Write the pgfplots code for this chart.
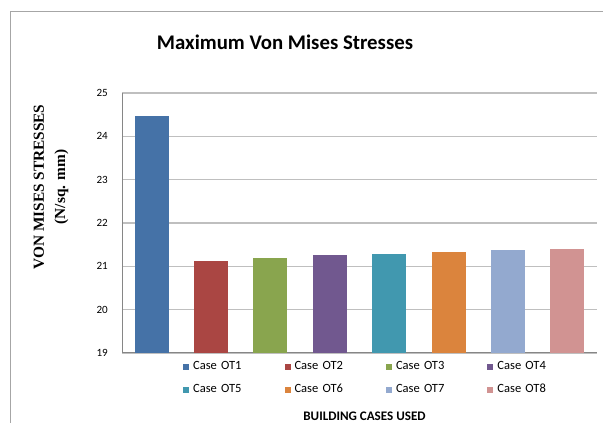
\documentclass[border=0pt]{standalone}
\usepackage{fontspec}
\setmainfont{Carlito}
\newfontfamily\timesfont{Liberation Serif}
\usepackage{pgfplots}
\pgfplotsset{compat=1.18}
\definecolor{cOne}{HTML}{4572A7}
\definecolor{cTwo}{HTML}{AA4643}
\definecolor{cThree}{HTML}{89A54E}
\definecolor{cFour}{HTML}{71588F}
\definecolor{cFive}{HTML}{4198AF}
\definecolor{cSix}{HTML}{DB843D}
\definecolor{cSeven}{HTML}{93A9CF}
\definecolor{cEight}{HTML}{D19392}
\definecolor{gridgray}{HTML}{BFBFBF}
\definecolor{axgray}{HTML}{868686}
\pgfplotsset{
  mybar/.style={ybar, bar shift=0pt, draw=none, fill=#1,
    legend image code/.code={\fill[##1] (0pt,-2.25pt) rectangle (4.5pt,2.25pt);}},
}
\begin{document}
\begin{tikzpicture}[x=0.75pt,y=0.75pt]
\useasboundingbox (0,0) rectangle (603,423);
\draw[color=gray!70, line width=0.75pt] (10,0) -- (10,411) -- (603,411);
\begin{axis}[
  at={(91.5pt,52.5pt)}, anchor=south west,
  scale only axis,
  width=356.25pt, height=195pt,
  xmin=0.5, xmax=8.5,
  ymin=19, ymax=25,
  ytick={19,20,...,25},
  xtick=\empty,
  ymajorgrids,
  grid style={color=gridgray, line width=1pt},
  axis x line*=bottom,
  axis y line*=left,
  axis line style={color=axgray, line width=0.75pt},
  major tick length=0pt,
  bar width=25.5pt,
  /pgf/number format/assume math mode=true,
  yticklabel style={font=\fontsize{8.3}{9}\selectfont, inner sep=0pt, xshift=-10.5pt},
  legend columns=4,
  legend style={at={(0.128,-0.031)}, anchor=north west, draw=none, fill=none,
    inner sep=0pt, font=\fontsize{9.4}{11}\selectfont,
    /tikz/column sep=0pt, row sep=8.75pt,
    nodes={inner xsep=3pt, inner ysep=0pt, text height=6.5pt, text depth=2pt, text width=65.6pt}},
  legend cell align=left,
]
\addplot[mybar=cOne] coordinates {(1,24.48)};
\addlegendentry{Case OT1}
\addplot[mybar=cTwo] coordinates {(2,21.12)};
\addlegendentry{Case OT2}
\addplot[mybar=cThree] coordinates {(3,21.19)};
\addlegendentry{Case OT3}
\addplot[mybar=cFour] coordinates {(4,21.25)};
\addlegendentry{Case OT4}
\addplot[mybar=cFive] coordinates {(5,21.29)};
\addlegendentry{Case OT5}
\addplot[mybar=cSix] coordinates {(6,21.33)};
\addlegendentry{Case OT6}
\addplot[mybar=cSeven] coordinates {(7,21.37)};
\addlegendentry{Case OT7}
\addplot[mybar=cEight] coordinates {(8,21.39)};
\addlegendentry{Case OT8}
\end{axis}
\node[font=\bfseries\fontsize{15.6}{18}\selectfont] at (285,381) {Maximum Von Mises Stresses};
\node[font=\bfseries\fontsize{9.8}{11}\selectfont] at (364.5,6.5) {BUILDING CASES USED};
\node[rotate=90, align=center, font=\timesfont\bfseries\fontsize{11.5}{16}\selectfont] at (51,236) {VON MISES STRESSES\\(N/sq. mm)};
\end{tikzpicture}
\end{document}
